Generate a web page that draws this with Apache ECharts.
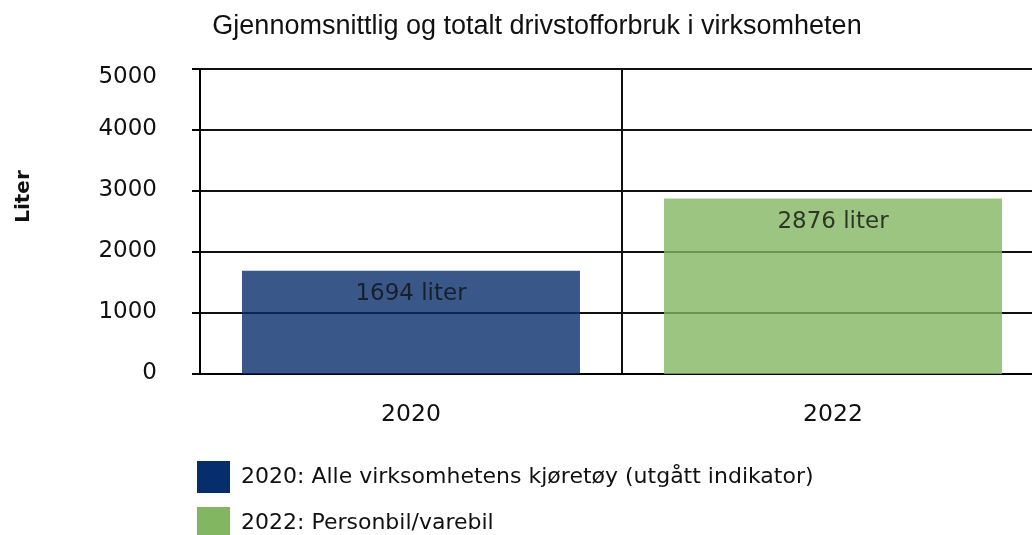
<!DOCTYPE html>
<html>
<head>
<meta charset="utf-8">
<script src="https://cdn.jsdelivr.net/npm/echarts@6/dist/echarts.min.js"></script>
<style>
  html, body { margin: 0; padding: 0; background: #fff; }
  #chart { width: 1032px; height: 535px; }
</style>
</head>
<body>
<div id="chart"></div>
<script>
const categories = ['2020', '2022']
const seriesNames = [
  '2020: Alle virksomhetens kjøretøy (utgått indikator)',
  '2022: Personbil/varebil'
]
const values = [1694, 2876]
const colors = ['#072e6c', '#82b660']
const yMax = 5000

const chart = echarts.init(document.getElementById('chart'))

const series = seriesNames.map((name, i) => ({
  name: name,
  type: 'bar',
  stack: 'total',
  barWidth: 338,
  data: categories.map((c, j) => (j === i ? values[i] : '-')),
  itemStyle: { color: colors[i], opacity: 0.8 },
  label: {
    show: true,
    position: 'insideTop',
    distance: 12,
    formatter: '{c} liter',
    color: '#111',
    fontFamily: 'DejaVu Sans',
    fontSize: 23
  }
}))

const tickFont = { fontFamily: 'DejaVu Sans', fontSize: 23, color: '#111' }

chart.setOption({
  animation: false,
  title: {
    text: 'Gjennomsnittlig og totalt drivstofforbruk i virksomheten',
    left: 532,
    textAlign: 'center',
    top: 8,
    textStyle: {
      fontFamily: 'Liberation Sans',
      fontWeight: 'normal',
      fontSize: 27,
      color: '#111'
    }
  },
  legend: {
    orient: 'vertical',
    left: 197,
    top: 461,
    height: 90,
    padding: 0,
    itemWidth: 33,
    itemHeight: 32,
    itemGap: 14,
    icon: 'rect',
    data: seriesNames,
    itemStyle: { opacity: 1 },
    textStyle: { fontFamily: 'DejaVu Sans', fontSize: 22, color: '#111', padding: [8, 0, 0, 6] }
  },
  grid: { left: 200, width: 844, top: 69, bottom: 161, outerBoundsMode: 'none', containLabel: false },
  xAxis: {
    type: 'category',
    data: categories,
    axisLine: { lineStyle: { color: '#000', width: 2 } },
    axisTick: { alignWithLabel: true, length: 6, lineStyle: { color: '#000', width: 2 } },
    axisLabel: { margin: 29, fontFamily: 'DejaVu Sans', fontSize: 23.5, color: '#111' },
    splitLine: { show: true, lineStyle: { color: '#111', width: 2 } }
  },
  yAxis: {
    type: 'value',
    min: 0,
    max: yMax,
    interval: 1000,
    name: 'Liter',
    nameLocation: 'middle',
    nameGap: 166,
    nameRotate: 90,
    nameTextStyle: {
      fontFamily: 'DejaVu Sans',
      fontWeight: 'bold',
      fontSize: 20,
      color: '#111',
      padding: [0, 0, 0, 50]
    },
    axisLine: { show: true, lineStyle: { color: '#000', width: 2 } },
    axisTick: { show: true, length: 8, lineStyle: { color: '#000', width: 2 } },
    axisLabel: {
      margin: 43,
      ...tickFont,
      formatter: (v) => (v === yMax ? '{top|' + v + '}' : '{n|' + v + '}'),
      rich: {
        top: { ...tickFont, padding: [16, 0, 0, 0] },
        n: { ...tickFont, padding: [0, 0, 2, 0] }
      }
    },
    splitLine: { show: true, lineStyle: { color: '#111', width: 2 } }
  },
  series: series
})
</script>
</body>
</html>
